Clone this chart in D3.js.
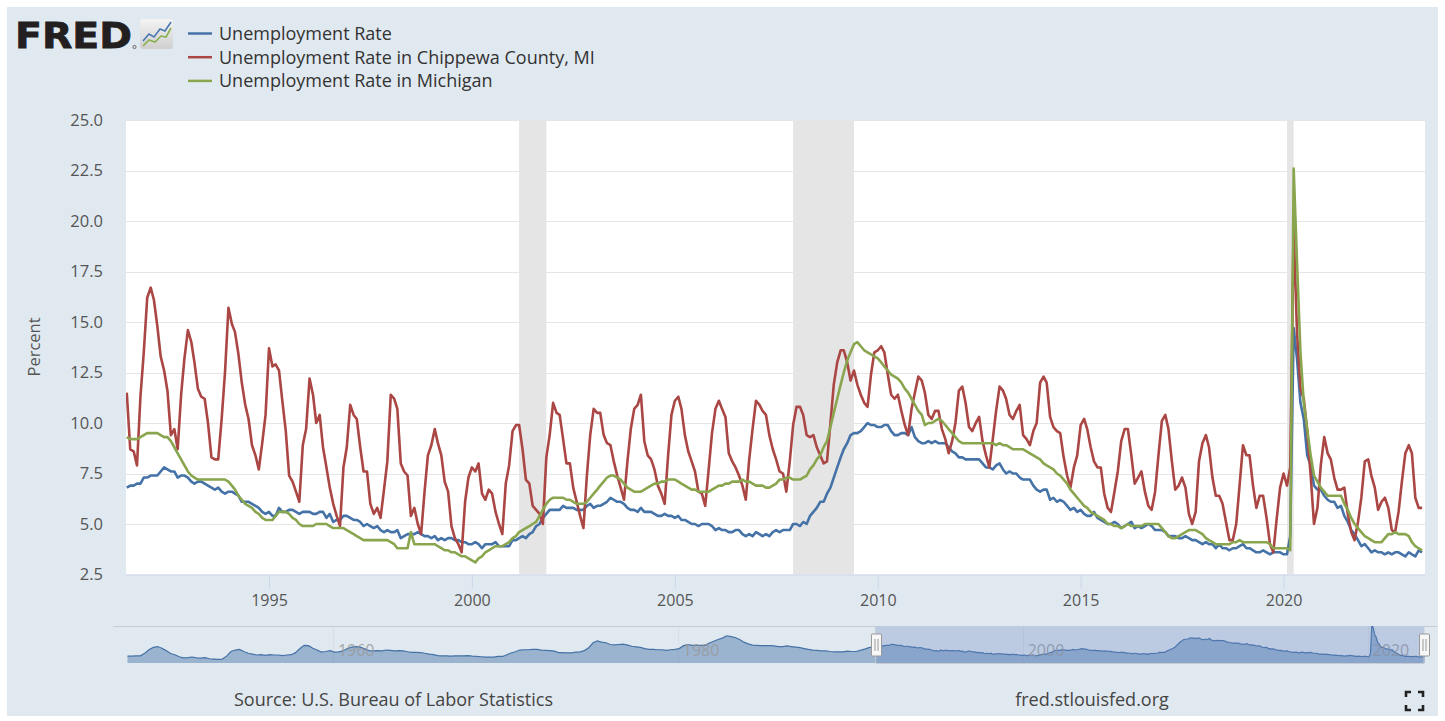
<!DOCTYPE html>
<html>
<head>
<meta charset="utf-8">
<script src="https://cdn.jsdelivr.net/npm/d3@7"></script>
<style>
  html, body { margin: 0; padding: 0; background: #fff; }
  #chart { width: 1445px; height: 721px; }
  svg text { font-family: "Open Sans", "Noto Sans", sans-serif; }
</style>
</head>
<body>
<div id="chart"></div>
<script>
// ---- data -------------------------------------------------------------
// monthly values, first value = July 1991, last = June 2023
const firstMonth = new Date(1991, 6, 1);

const usRate = [
  6.8, 6.9, 6.9, 7.0, 7.0, 7.3,                                    // 1991 Jul-Dec
  7.3, 7.4, 7.4, 7.4, 7.6, 7.8, 7.7, 7.6, 7.6, 7.3, 7.4, 7.4,      // 1992
  7.3, 7.1, 7.0, 7.1, 7.1, 7.0, 6.9, 6.8, 6.7, 6.8, 6.6, 6.5,      // 1993
  6.6, 6.6, 6.5, 6.4, 6.1, 6.1, 6.1, 6.0, 5.9, 5.8, 5.6, 5.5,      // 1994
  5.6, 5.4, 5.4, 5.8, 5.6, 5.6, 5.7, 5.7, 5.6, 5.5, 5.6, 5.6,      // 1995
  5.6, 5.5, 5.5, 5.6, 5.6, 5.3, 5.5, 5.1, 5.2, 5.2, 5.4, 5.4,      // 1996
  5.3, 5.2, 5.2, 5.1, 4.9, 5.0, 4.9, 4.8, 4.9, 4.7, 4.6, 4.7,      // 1997
  4.6, 4.6, 4.7, 4.3, 4.4, 4.5, 4.5, 4.5, 4.6, 4.5, 4.4, 4.4,      // 1998
  4.3, 4.4, 4.2, 4.3, 4.2, 4.3, 4.3, 4.2, 4.2, 4.1, 4.1, 4.0,      // 1999
  4.0, 4.1, 4.0, 3.8, 4.0, 4.0, 4.0, 4.1, 3.9, 3.9, 3.9, 3.9,      // 2000
  4.2, 4.2, 4.3, 4.4, 4.3, 4.5, 4.6, 4.9, 5.0, 5.3, 5.5, 5.7,      // 2001
  5.7, 5.7, 5.7, 5.9, 5.8, 5.8, 5.8, 5.7, 5.7, 5.7, 5.9, 6.0,      // 2002
  5.8, 5.9, 5.9, 6.0, 6.1, 6.3, 6.2, 6.1, 6.1, 6.0, 5.8, 5.7,      // 2003
  5.7, 5.6, 5.8, 5.6, 5.6, 5.6, 5.5, 5.4, 5.4, 5.5, 5.4, 5.4,      // 2004
  5.3, 5.4, 5.2, 5.2, 5.1, 5.0, 5.0, 4.9, 5.0, 5.0, 5.0, 4.9,      // 2005
  4.7, 4.8, 4.7, 4.7, 4.6, 4.6, 4.7, 4.7, 4.5, 4.4, 4.5, 4.4,      // 2006
  4.6, 4.5, 4.4, 4.5, 4.4, 4.6, 4.7, 4.6, 4.7, 4.7, 4.7, 5.0,      // 2007
  5.0, 4.9, 5.1, 5.0, 5.4, 5.6, 5.8, 6.1, 6.1, 6.5, 6.8, 7.3,      // 2008
  7.8, 8.3, 8.7, 9.0, 9.4, 9.5, 9.5, 9.6, 9.8, 10.0, 9.9, 9.9,     // 2009
  9.8, 9.8, 9.9, 9.9, 9.6, 9.4, 9.4, 9.5, 9.5, 9.4, 9.8, 9.3,      // 2010
  9.1, 9.0, 9.0, 9.1, 9.0, 9.1, 9.0, 9.0, 9.0, 8.8, 8.6, 8.5,      // 2011
  8.3, 8.3, 8.2, 8.2, 8.2, 8.2, 8.2, 8.0, 7.8, 7.8, 7.7, 7.9,      // 2012
  8.0, 7.7, 7.5, 7.6, 7.5, 7.5, 7.3, 7.2, 7.2, 7.2, 6.9, 6.7,      // 2013
  6.6, 6.7, 6.7, 6.2, 6.3, 6.1, 6.2, 6.1, 5.9, 5.7, 5.8, 5.6,      // 2014
  5.7, 5.5, 5.4, 5.4, 5.6, 5.3, 5.2, 5.1, 5.0, 5.0, 5.1, 5.0,      // 2015
  4.8, 4.9, 5.0, 5.1, 4.8, 4.9, 4.8, 4.9, 5.0, 4.9, 4.7, 4.7,      // 2016
  4.7, 4.6, 4.4, 4.4, 4.4, 4.3, 4.3, 4.4, 4.3, 4.2, 4.2, 4.1,      // 2017
  4.0, 4.1, 4.0, 4.0, 3.8, 4.0, 3.8, 3.8, 3.7, 3.8, 3.8, 3.9,      // 2018
  4.0, 3.8, 3.8, 3.7, 3.6, 3.6, 3.7, 3.6, 3.5, 3.6, 3.6, 3.6,      // 2019
  3.5, 3.5, 4.4, 14.7, 13.2, 11.0, 10.2, 8.4, 7.9, 6.9, 6.7, 6.7,  // 2020
  6.4, 6.2, 6.1, 6.1, 5.8, 5.9, 5.4, 5.1, 4.7, 4.5, 4.2, 3.9,      // 2021
  4.0, 3.8, 3.6, 3.7, 3.6, 3.6, 3.5, 3.6, 3.5, 3.6, 3.6, 3.5,      // 2022
  3.4, 3.6, 3.5, 3.4, 3.7, 3.6                                     // 2023 Jan-Jun
];

const chippewaRate = [
  11.5, 8.7, 8.6, 7.9, 11.3, 13.5,                                     // 1991 Jul-Dec
  16.2, 16.7, 16.1, 14.8, 13.3, 12.6, 11.6, 9.4, 9.7, 8.7, 11.4, 13.2,  // 1992
  14.6, 14.0, 13.0, 11.7, 11.3, 11.2, 10.0, 8.3, 8.2, 8.2, 10.2, 12.5,  // 1993
  15.7, 14.9, 14.5, 13.4, 12.0, 10.9, 10.2, 8.9, 8.4, 7.7, 9.0, 10.4,   // 1994
  13.7, 12.8, 12.9, 12.6, 11.1, 9.6, 7.4, 7.1, 6.6, 6.1, 8.9, 9.7,      // 1995
  12.2, 11.4, 10.0, 10.4, 8.8, 7.8, 6.8, 6.0, 5.4, 4.9, 7.8, 8.8,       // 1996
  10.9, 10.4, 10.2, 8.8, 7.6, 7.6, 6.0, 5.5, 5.8, 5.3, 6.7, 8.1,        // 1997
  11.4, 11.2, 10.7, 8.0, 7.6, 7.4, 5.4, 5.8, 5.0, 4.5, 6.6, 8.4,        // 1998
  8.9, 9.7, 9.0, 8.4, 7.1, 6.6, 4.9, 4.3, 4.0, 3.6, 6.1, 7.3,          // 1999
  7.8, 7.6, 8.0, 6.5, 6.2, 6.7, 6.5, 5.6, 5.0, 4.5, 7.0, 7.9,          // 2000
  9.6, 9.9, 9.9, 8.7, 7.2, 7.0, 5.9, 5.7, 5.5, 5.0, 8.3, 9.4,          // 2001
  11.0, 10.5, 10.4, 9.2, 8.0, 8.0, 6.8, 6.1, 5.4, 4.8, 7.4, 9.4,       // 2002
  10.7, 10.5, 10.5, 9.4, 9.0, 8.9, 8.1, 7.4, 6.8, 6.2, 8.1, 9.7,       // 2003
  10.7, 10.9, 11.4, 9.1, 8.4, 8.2, 7.7, 6.9, 6.5, 6.0, 8.4, 10.4,      // 2004
  11.1, 11.3, 10.7, 9.4, 8.6, 8.1, 7.6, 6.6, 6.5, 5.9, 7.7, 9.5,       // 2005
  10.7, 11.1, 10.7, 10.3, 8.5, 8.1, 7.8, 7.4, 6.9, 6.2, 8.2, 9.7,      // 2006
  11.1, 10.9, 10.6, 10.4, 9.4, 8.7, 8.2, 7.6, 7.5, 6.6, 8.1, 9.9,      // 2007
  10.8, 10.8, 10.4, 9.4, 9.3, 9.4, 8.8, 8.4, 8.0, 8.1, 10.0, 11.9,     // 2008
  13.0, 13.6, 13.6, 13.0, 12.1, 12.6, 11.9, 11.4, 11.0, 10.8, 12.4, 13.5, // 2009
  13.6, 13.8, 13.5, 12.4, 11.4, 11.2, 11.4, 10.6, 9.9, 9.4, 10.7, 11.5,   // 2010
  12.3, 12.1, 11.5, 10.4, 10.2, 10.6, 10.6, 9.7, 9.2, 8.5, 9.1, 10.0,     // 2011
  11.6, 11.8, 11.0, 9.8, 9.6, 10.0, 10.3, 9.1, 8.4, 7.8, 9.2, 10.6,      // 2012
  11.8, 11.6, 11.2, 10.4, 10.2, 10.6, 10.9, 9.4, 9.2, 8.9, 9.6, 10.0,    // 2013
  12.0, 12.3, 12.0, 10.3, 9.8, 9.6, 9.5, 8.3, 7.4, 6.8, 7.8, 8.4,        // 2014
  9.9, 10.2, 9.7, 8.8, 8.1, 7.8, 7.8, 6.5, 5.8, 5.6, 6.6, 7.6,          // 2015
  9.1, 9.7, 9.7, 8.4, 7.0, 7.3, 7.6, 6.6, 5.9, 5.7, 6.6, 8.4,           // 2016
  10.1, 10.4, 9.7, 8.1, 6.7, 6.9, 7.3, 6.8, 5.5, 5.0, 5.6, 8.1,         // 2017
  9.0, 9.4, 8.8, 7.3, 6.4, 6.4, 6.0, 5.1, 4.2, 4.2, 5.0, 6.9,           // 2018
  8.9, 8.4, 8.4, 6.9, 5.8, 6.4, 6.4, 5.3, 4.0, 3.6, 5.3, 6.8,           // 2019
  7.5, 6.9, 7.8, 19.7, 14.5, 11.7, 11.2, 9.6, 7.4, 5.0, 5.8, 7.9,       // 2020
  9.3, 8.5, 8.2, 7.3, 6.7, 6.7, 6.8, 5.5, 4.6, 4.2, 5.1, 6.3,           // 2021
  8.1, 8.2, 7.4, 6.8, 5.7, 6.1, 6.3, 5.8, 4.7, 4.6, 5.6, 7.1,           // 2022
  8.5, 8.9, 8.5, 6.3, 5.8, 5.8                                          // 2023 Jan-Jun
];

const michiganRate = [
  9.3, 9.2, 9.2, 9.2, 9.3, 9.4,                                    // 1991 Jul-Dec
  9.5, 9.5, 9.5, 9.5, 9.4, 9.3, 9.3, 9.1, 8.8, 8.5, 8.2, 7.9,      // 1992
  7.6, 7.4, 7.3, 7.2, 7.2, 7.2, 7.2, 7.2, 7.2, 7.2, 7.2, 7.2,      // 1993
  7.1, 6.9, 6.7, 6.4, 6.2, 6.0, 5.9, 5.8, 5.6, 5.5, 5.3, 5.2,      // 1994
  5.2, 5.2, 5.4, 5.6, 5.6, 5.6, 5.5, 5.3, 5.2, 5.0, 4.9, 4.9,      // 1995
  4.9, 4.9, 5.0, 5.0, 5.0, 5.0, 4.9, 4.8, 4.8, 4.8, 4.8, 4.7,      // 1996
  4.6, 4.5, 4.4, 4.3, 4.2, 4.2, 4.2, 4.2, 4.2, 4.2, 4.2, 4.2,      // 1997
  4.1, 4.0, 3.8, 3.8, 3.8, 3.8, 4.6, 4.0, 4.0, 4.0, 4.0, 4.0,      // 1998
  4.0, 4.0, 3.9, 3.8, 3.7, 3.7, 3.6, 3.6, 3.5, 3.4, 3.4, 3.3,      // 1999
  3.2, 3.1, 3.3, 3.4, 3.6, 3.7, 3.8, 3.9, 3.9, 3.9, 4.0, 4.1,      // 2000
  4.3, 4.4, 4.6, 4.7, 4.8, 4.9, 5.0, 5.1, 5.4, 5.7, 6.0, 6.2,      // 2001
  6.3, 6.3, 6.3, 6.3, 6.2, 6.2, 6.1, 6.0, 6.0, 6.0, 6.1, 6.3,      // 2002
  6.5, 6.7, 6.9, 7.1, 7.3, 7.4, 7.4, 7.3, 7.2, 7.0, 6.8, 6.7,      // 2003
  6.6, 6.6, 6.6, 6.7, 6.8, 6.9, 7.0, 7.0, 7.1, 7.1, 7.2, 7.2,      // 2004
  7.2, 7.1, 7.0, 6.9, 6.8, 6.7, 6.7, 6.6, 6.6, 6.6, 6.6, 6.7,      // 2005
  6.8, 6.9, 6.9, 7.0, 7.0, 7.1, 7.1, 7.1, 7.2, 7.1, 7.1, 7.0,      // 2006
  6.9, 6.9, 6.9, 6.8, 6.8, 6.9, 7.0, 7.2, 7.2, 7.3, 7.3, 7.2,      // 2007
  7.2, 7.2, 7.3, 7.4, 7.7, 7.9, 8.2, 8.4, 8.8, 9.1, 9.8, 10.5,     // 2008
  11.2, 11.9, 12.5, 13.1, 13.5, 13.9, 14.0, 13.8, 13.6, 13.5, 13.4, 13.3, // 2009
  13.2, 13.0, 12.8, 12.6, 12.4, 12.3, 12.2, 12.0, 11.7, 11.5, 11.2, 10.9, // 2010
  10.6, 10.4, 9.9, 10.0, 10.0, 10.1, 10.2, 10.1, 9.9, 9.7, 9.5, 9.3,      // 2011
  9.1, 9.0, 9.0, 9.0, 9.0, 9.0, 9.0, 9.0, 9.0, 9.0, 9.0, 8.9,      // 2012
  9.0, 8.9, 8.9, 8.8, 8.7, 8.7, 8.7, 8.7, 8.6, 8.5, 8.4, 8.3,      // 2013
  8.2, 8.0, 7.9, 7.8, 7.7, 7.5, 7.4, 7.2, 7.0, 6.7, 6.5, 6.3,      // 2014
  6.1, 5.9, 5.8, 5.6, 5.5, 5.4, 5.3, 5.2, 5.0, 5.0, 4.9, 4.9,      // 2015
  4.8, 4.9, 5.0, 4.9, 4.9, 4.9, 4.9, 5.0, 5.0, 5.0, 5.0, 5.0,      // 2016
  4.8, 4.6, 4.4, 4.3, 4.3, 4.4, 4.5, 4.6, 4.7, 4.7, 4.7, 4.6,      // 2017
  4.5, 4.3, 4.2, 4.1, 4.0, 4.0, 4.0, 4.0, 4.0, 4.1, 4.1, 4.2,      // 2018
  4.1, 4.1, 4.1, 4.1, 4.1, 4.1, 4.1, 4.1, 4.0, 3.8, 3.8, 3.8,      // 2019
  3.8, 3.8, 3.7, 22.6, 18.0, 13.5, 11.0, 9.7, 8.4, 7.4, 7.1, 6.8,  // 2020
  6.6, 6.4, 6.4, 6.4, 6.4, 6.4, 6.0, 5.7, 5.3, 5.0, 4.8, 4.6,      // 2021
  4.4, 4.3, 4.2, 4.1, 4.1, 4.1, 4.3, 4.5, 4.5, 4.6, 4.5, 4.5,      // 2022
  4.5, 4.4, 4.1, 3.9, 3.8, 3.7                                     // 2023 Jan-Jun
];

// navigator: national rate before the main window, quarterly (Feb, May, Aug, Nov) 1948 .. mid 1991
const usRateEarlyStart = new Date(1948, 1, 1);
const usRateEarly = [
  3.7, 3.7, 3.8, 3.8,   4.7, 5.9, 6.7, 7.0,   6.4, 5.6, 4.6, 4.2,   3.5, 3.1, 3.2, 3.4,   // 1948-51
  3.1, 3.0, 3.2, 2.8,   2.7, 2.6, 2.7, 3.7,   5.3, 5.8, 6.0, 5.3,   4.7, 4.4, 4.1, 4.2,   // 1952-55
  4.0, 4.2, 4.1, 4.1,   3.9, 4.1, 4.2, 4.9,   6.3, 7.4, 7.3, 6.4,   5.8, 5.1, 5.3, 5.6,   // 1956-59
  5.1, 5.2, 5.5, 6.3,   6.8, 7.0, 6.8, 6.2,   5.6, 5.5, 5.6, 5.5,   5.8, 5.7, 5.5, 5.6,   // 1960-63
  5.5, 5.2, 5.0, 5.0,   4.9, 4.7, 4.4, 4.2,   3.9, 3.8, 3.8, 3.7,   3.8, 3.8, 3.8, 3.9,   // 1964-67
  3.7, 3.6, 3.5, 3.4,   3.4, 3.4, 3.6, 3.6,   4.2, 4.8, 5.2, 5.8,   5.9, 5.9, 6.0, 6.0,   // 1968-71
  5.8, 5.7, 5.6, 5.4,   4.9, 4.9, 4.8, 4.8,   5.1, 5.2, 5.6, 6.6,   8.3, 8.9, 8.5, 8.3,   // 1972-75
  7.7, 7.6, 7.7, 7.8,   7.5, 7.1, 6.9, 6.7,   6.3, 6.0, 6.0, 5.9,   5.9, 5.7, 5.9, 6.0,   // 1976-79
  6.3, 7.3, 7.7, 7.4,   7.4, 7.4, 7.4, 8.2,   8.8, 9.4, 9.9, 10.7,  10.4, 10.1, 9.4, 8.5, // 1980-83
  7.9, 7.5, 7.4, 7.3,   7.3, 7.3, 7.2, 7.0,   7.0, 7.2, 7.0, 6.8,   6.6, 6.3, 6.0, 5.8,   // 1984-87
  5.7, 5.5, 5.5, 5.3,   5.2, 5.2, 5.2, 5.4,   5.3, 5.3, 5.7, 6.1,   6.6, 6.8              // 1988-91
];

const seriesNames = [
  "Unemployment Rate",
  "Unemployment Rate in Chippewa County, MI",
  "Unemployment Rate in Michigan"
];
const seriesColors = ["#4572a7", "#aa4643", "#89a54e"];

const recessions = [
  ["2001-03-01", "2001-11-01"],
  ["2007-12-01", "2009-06-01"],
  ["2020-02-01", "2020-04-01"]
];

const yTicks = [2.5, 5, 7.5, 10, 12.5, 15, 17.5, 20, 22.5, 25];
const xTickYears = [1995, 2000, 2005, 2010, 2015, 2020];
const navTickYears = [1960, 1980, 2000, 2020];

// ---- layout -----------------------------------------------------------
const W = 1445, H = 721;
const plot = { left: 126, right: 1425, top: 120, bottom: 574.5 };
const nav = { left: 126, right: 1425, top: 626, bottom: 663 };
const viewStart = new Date(1991, 5, 24), viewEnd = new Date(2023, 5, 27);

const svg = d3.select("#chart").append("svg")
  .attr("width", W)
  .attr("height", H);

svg.append("rect")
  .attr("x", 7).attr("y", 7)
  .attr("width", W - 14).attr("height", H - 12)
  .attr("fill", "#e1e9f0");

const months = d3.range(usRate.length).map(i => d3.timeMonth.offset(firstMonth, i));

const xScale = d3.scaleTime().domain([viewStart, viewEnd]).range([plot.left, plot.right]);
const yScale = d3.scaleLinear().domain([2.5, 25]).range([plot.bottom, plot.top]);

const defs = svg.append("defs");
defs.append("clipPath").attr("id", "plotClip")
  .append("rect")
  .attr("x", plot.left).attr("y", plot.top - 2)
  .attr("width", plot.right - plot.left).attr("height", plot.bottom - plot.top + 4);
defs.append("clipPath").attr("id", "navClip")
  .append("rect")
  .attr("x", nav.left).attr("y", nav.top)
  .attr("width", nav.right - nav.left).attr("height", nav.bottom - nav.top);

// plot background
svg.append("rect")
  .attr("x", plot.left).attr("y", plot.top)
  .attr("width", plot.right - plot.left).attr("height", plot.bottom - plot.top)
  .attr("fill", "#fff");

// recession bands
const parseDay = d3.timeParse("%Y-%m-%d");
svg.append("g").attr("clip-path", "url(#plotClip)")
  .selectAll("rect")
  .data(recessions)
  .enter()
  .append("rect")
  .attr("x", d => xScale(parseDay(d[0])))
  .attr("width", d => xScale(parseDay(d[1])) - xScale(parseDay(d[0])))
  .attr("y", plot.top)
  .attr("height", plot.bottom - plot.top)
  .attr("fill", "#e5e5e5");

// horizontal grid
svg.append("g")
  .selectAll("line")
  .data(yTicks.slice(1))
  .enter()
  .append("line")
  .attr("x1", plot.left).attr("x2", plot.right)
  .attr("y1", d => Math.round(yScale(d)) + 0.5)
  .attr("y2", d => Math.round(yScale(d)) + 0.5)
  .attr("stroke", "#e6e6e6")
  .attr("stroke-width", 1);

// y axis
const yAxisG = svg.append("g")
  .attr("transform", `translate(${plot.left},0)`)
  .call(d3.axisLeft(yScale).tickValues(yTicks).tickFormat(d3.format(".1f")).tickSize(0).tickPadding(23));
yAxisG.select(".domain").remove();
yAxisG.selectAll("text")
  .attr("fill", "#555")
  .style("font-size", "16.5px");

svg.append("text")
  .attr("transform", "translate(40,347) rotate(-90)")
  .attr("text-anchor", "middle")
  .attr("fill", "#555")
  .style("font-size", "16.5px")
  .text("Percent");

// x axis
const xAxisG = svg.append("g")
  .attr("transform", `translate(0,${plot.bottom})`)
  .call(d3.axisBottom(xScale)
    .tickValues(xTickYears.map(yr => new Date(yr, 0, 1)))
    .tickFormat(d3.timeFormat("%Y"))
    .tickSize(14).tickPadding(6));
xAxisG.select(".domain")
  .attr("stroke", "#ccd6eb")
  .attr("d", `M${plot.left},0.5H${plot.right}`);
xAxisG.selectAll(".tick line").attr("stroke", "#ccd6eb");
xAxisG.selectAll("text")
  .attr("fill", "#555")
  .style("font-size", "16px");

// series lines
const seriesValues = [usRate, chippewaRate, michiganRate];
const line = d3.line()
  .x((d, i) => xScale(months[i]))
  .y(d => yScale(d));

svg.append("g").attr("clip-path", "url(#plotClip)")
  .selectAll("path")
  .data(seriesValues)
  .enter()
  .append("path")
  .attr("d", d => line(d))
  .attr("fill", "none")
  .attr("stroke", (d, i) => seriesColors[i])
  .attr("stroke-width", 2.6)
  .attr("stroke-linejoin", "round");

// ---- legend + logo ----------------------------------------------------
const legend = svg.append("g");
seriesNames.forEach((name, i) => {
  const ly = 33.5 + i * 23.7;
  legend.append("line")
    .attr("x1", 188).attr("x2", 212)
    .attr("y1", ly).attr("y2", ly)
    .attr("stroke", seriesColors[i])
    .attr("stroke-width", 2.5);
  legend.append("text")
    .attr("x", 219).attr("y", ly + 6.3)
    .attr("fill", "#333")
    .style("font-size", "18px")
    .text(name);
});

svg.append("text")
  .attr("x", 15).attr("y", 48)
  .attr("textLength", 117)
  .attr("lengthAdjust", "spacingAndGlyphs")
  .attr("fill", "#231f20")
  .attr("stroke", "#231f20")
  .attr("stroke-width", 0.8)
  .style("font-family", "'DejaVu Sans', sans-serif")
  .style("font-weight", "bold")
  .style("font-size", "36px")
  .text("FRED");
svg.append("circle").attr("cx", 134.5).attr("cy", 47).attr("r", 1.6)
  .attr("fill", "none").attr("stroke", "#231f20").attr("stroke-width", 0.6);

const grad = defs.append("linearGradient").attr("id", "iconGrad")
  .attr("x1", 0).attr("y1", 0).attr("x2", 0).attr("y2", 1);
grad.append("stop").attr("offset", "0%").attr("stop-color", "#f4f4f4");
grad.append("stop").attr("offset", "100%").attr("stop-color", "#cfcfcf");
const icon = svg.append("g").attr("transform", "translate(140,19)");
icon.append("rect").attr("width", 33).attr("height", 30).attr("rx", 3)
  .attr("fill", "url(#iconGrad)");
icon.append("polyline")
  .attr("points", "3,22 9,15 14,18 20,10 25,12 31,3")
  .attr("fill", "none").attr("stroke", "#4a78b0").attr("stroke-width", 1.6);
icon.append("polyline")
  .attr("points", "3,27 9,21 15,23 21,17 26,18 31,9")
  .attr("fill", "none").attr("stroke", "#8bb04e").attr("stroke-width", 1.6);

// ---- navigator --------------------------------------------------------
const navDates = usRateEarly.map((v, i) => d3.timeMonth.offset(usRateEarlyStart, 3 * i)).concat(months);
const navValues = usRateEarly.concat(usRate);

const xNav = d3.scaleTime().domain([new Date(1948, 0, 1), new Date(2023, 4, 1)]).range([nav.left, nav.right]);
const yNav = d3.scaleLinear().domain([1.35, 14.05]).range([nav.bottom, nav.top]);

svg.append("g")
  .selectAll("line")
  .data(navTickYears)
  .enter()
  .append("line")
  .attr("x1", d => Math.round(xNav(new Date(d, 0, 1))) + 0.5)
  .attr("x2", d => Math.round(xNav(new Date(d, 0, 1))) + 0.5)
  .attr("y1", nav.top).attr("y2", nav.bottom)
  .attr("stroke", "#d8dee6");

const navArea = d3.area()
  .x((d, i) => xNav(navDates[i]))
  .y0(nav.bottom)
  .y1(d => yNav(d));
const navLine = d3.line()
  .x((d, i) => xNav(navDates[i]))
  .y(d => yNav(d));

const navG = svg.append("g").attr("clip-path", "url(#navClip)");
navG.append("path")
  .attr("d", navArea(navValues))
  .attr("fill", "#4572a7")
  .attr("fill-opacity", 0.45);
navG.append("path")
  .attr("d", navLine(navValues))
  .attr("fill", "none")
  .attr("stroke", "#4572a7")
  .attr("stroke-width", 1.2);

svg.append("g")
  .selectAll("text")
  .data(navTickYears)
  .enter()
  .append("text")
  .attr("x", d => xNav(new Date(d, 0, 1)) + 5)
  .attr("y", 656)
  .attr("fill", "#999")
  .attr("fill-opacity", 0.85)
  .style("font-size", "16px")
  .text(d => d);

const zMin = xNav(viewStart), zMax = nav.right - 1;
svg.append("rect")
  .attr("x", zMin).attr("y", nav.top)
  .attr("width", zMax - zMin).attr("height", nav.bottom - nav.top)
  .attr("fill", "rgba(102,133,194,0.3)");

svg.append("path")
  .attr("d", `M113,${nav.top + 0.5}H${zMin}V${nav.bottom + 0.5}H${zMax}V${nav.top + 0.5}H1437`)
  .attr("fill", "none")
  .attr("stroke", "#c8cdd3")
  .attr("stroke-width", 1);

[zMin, zMax].forEach(hx => {
  const hg = svg.append("g").attr("transform", `translate(${Math.round(hx) + 0.5},645)`);
  hg.append("rect")
    .attr("x", -5).attr("y", -11).attr("width", 10).attr("height", 22).attr("rx", 1)
    .attr("fill", "#f7f7f7").attr("stroke", "#999");
  hg.append("path")
    .attr("d", "M-1.5,-6V6M1.5,-6V6")
    .attr("stroke", "#999");
});

// ---- footer -----------------------------------------------------------
svg.append("text")
  .attr("x", 234).attr("y", 706)
  .attr("fill", "#444")
  .style("font-size", "18px")
  .text("Source: U.S. Bureau of Labor Statistics");
svg.append("text")
  .attr("x", 1092).attr("y", 706)
  .attr("text-anchor", "middle")
  .attr("fill", "#444")
  .style("font-size", "18px")
  .text("fred.stlouisfed.org");

svg.append("path")
  .attr("d", "M1406,697V692H1411 M1418,692H1423V697 M1423,705V710H1418 M1411,710H1406V705")
  .attr("fill", "none")
  .attr("stroke", "#222")
  .attr("stroke-width", 2.6);
</script>
</body>
</html>
